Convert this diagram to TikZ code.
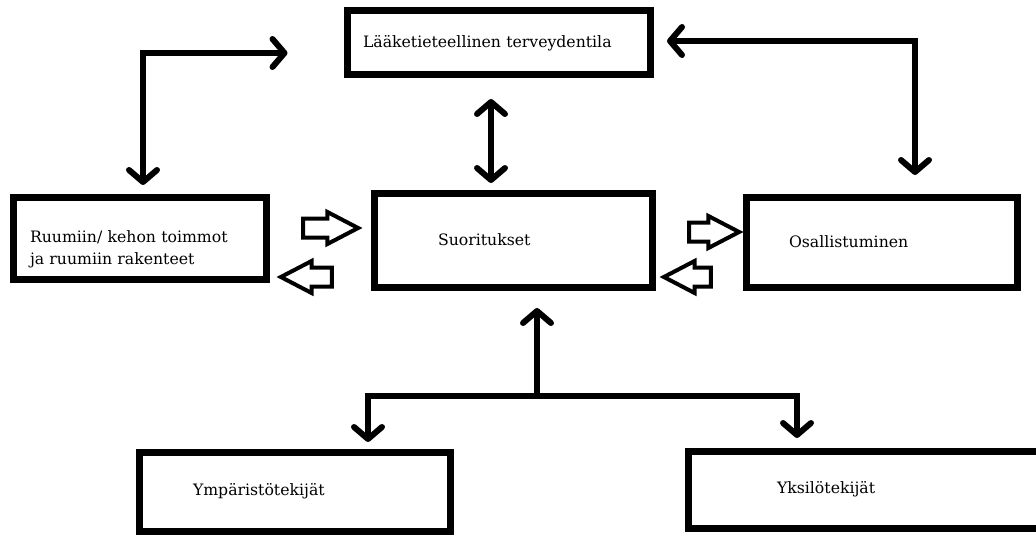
\documentclass[tikz,border=0pt]{standalone}
\usepackage{fontspec}
\setmainfont{DejaVu Serif}
\usetikzlibrary{arrows.meta, positioning, shapes.arrows}

\begin{document}
\begin{tikzpicture}[
        x=1pt, y=-1pt,
        >={Straight Barb[length=12pt, width=28pt, round]},
        every node/.style={font=\fontsize{15.7}{22}\selectfont},
        box/.style={draw, line width=7pt, align=left, inner ysep=0pt},
        link/.style={line width=6pt},
        hollow/.style={single arrow, draw, line width=4pt, inner sep=7.5pt,
            minimum width=28pt, single arrow head extend=6.5pt,
            single arrow tip angle=55}
    ]
        \useasboundingbox (0,0) rectangle (1036,535);

        % laatikot
        \path
            (498.5,43)    node[box, minimum height=64pt, inner xsep=16pt, text width=271pt] (tila) {Lääketieteellinen terveydentila}
            (139.5,238)   node[box, inner xsep=17pt, text width=219pt, text height=45pt, text depth=37pt] (ruumis) {Ruumiin/ kehon toimmot\\ja ruumiin rakenteet}
            (513,240)     node[box, minimum height=94pt, inner xsep=64pt, text width=150pt] (suor) {Suoritukset}
            (881.5,242)   node[box, minimum height=90pt, inner xsep=43pt, text width=185pt] (osall) {Osallistuminen}
            (294.5,491.5) node[box, minimum height=79pt, inner xsep=54pt, text width=203pt] (ymp) {Ympäristötekijät}
            (866.5,489.5) node[box, minimum height=77pt, inner xsep=89pt, text width=179pt] (yksi) {Yksilötekijät};

        % nuolet ylälaatikkoon
        \draw[link, <->] ([xshift=-56pt, yshift=-10pt]tila.west) -| ([xshift=3.5pt, yshift=8.5pt]ruumis.north);
        \draw[link, <->] ([xshift=13.5pt, yshift=2pt]tila.east) -| ([xshift=33.5pt, yshift=18.5pt]osall.north);
        \draw[link, <->, shorten <=20.5pt, shorten >=6.5pt] ([xshift=-7.5pt]tila.south) -- ([xshift=-7.5pt]tila.south |- suor.north);

        % tekijät
        \coordinate (haara) at (537,396);
        \draw[link, ->, shorten >=17.5pt] (haara) -- (haara |- suor.south);
        \draw[link, ->, shorten >=6.5pt] (haara) -| ([xshift=73.5pt]ymp.north);
        \draw[link, ->, shorten >=9.5pt] (haara) -| ([xshift=-69.5pt]yksi.north);

        % ontot nuolet
        \path
            (321.5,228) node[hollow, minimum height=55pt] (n1) {}
            (315.5,277) node[hollow, minimum height=51pt, shape border rotate=180] (n2) {}
            (705,232)   node[hollow, minimum height=50pt] (n3) {}
            (696.5,277) node[hollow, minimum height=47pt, shape border rotate=180] (n4) {};
    \end{tikzpicture}
\end{document}
